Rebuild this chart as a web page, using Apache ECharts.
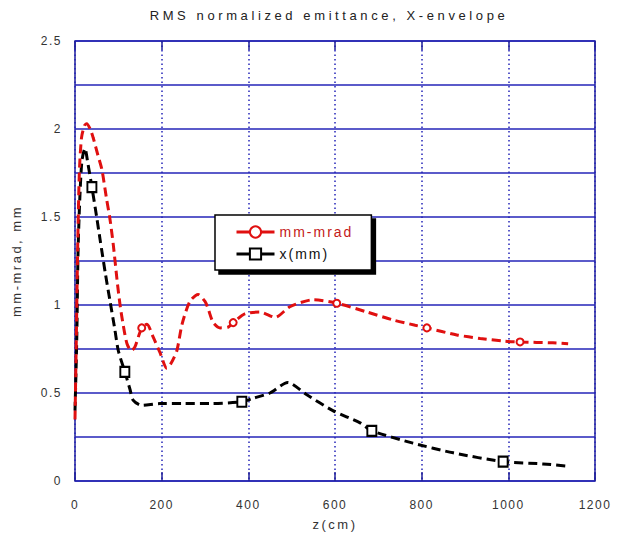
<!DOCTYPE html>
<html>
<head>
<meta charset="utf-8">
<script src="https://cdn.jsdelivr.net/npm/echarts@6/dist/echarts.min.js"></script>
<style>
  html, body { margin: 0; padding: 0; background: #fff; }
  #chart { width: 623px; height: 540px; }
  #chart text { letter-spacing: 1.5px; }
</style>
</head>
<body>
<div id="chart"></div>
<script>
// RMS normalized emittance (red) and x-envelope (black) along z
const redZ = [0, 3, 6, 10, 15, 22, 27, 35, 42, 53, 62, 73, 80, 88, 98, 104, 111, 120, 130, 138, 154, 166, 180, 196, 212, 222, 235, 247, 265, 284, 300, 307, 319, 335, 354, 365, 392, 427, 462, 496, 550, 604, 674, 734, 785, 812, 881, 935, 988, 1027, 1103, 1138];
const redV = [0.35, 0.8, 1.3, 1.75, 1.95, 2.02, 2.03, 2.0, 1.95, 1.85, 1.77, 1.6, 1.5, 1.35, 1.12, 1.0, 0.89, 0.78, 0.74, 0.76, 0.87, 0.89, 0.82, 0.73, 0.64, 0.67, 0.74, 0.89, 1.02, 1.06, 1.02, 0.98, 0.9, 0.87, 0.875, 0.9, 0.95, 0.96, 0.93, 0.99, 1.03, 1.01, 0.96, 0.915, 0.885, 0.87, 0.83, 0.81, 0.795, 0.79, 0.785, 0.78];
const redMarks = [154, 365, 604, 812, 1027];

const blackZ = [0, 4, 7, 11, 16, 23, 30, 39, 50, 58, 70, 81, 92, 100, 115, 127, 134, 154, 196, 250, 312, 385, 411, 450, 491, 535, 595, 658, 685, 780, 873, 988, 1080, 1135];
const blackV = [0.4, 0.8, 1.3, 1.6, 1.82, 1.89, 1.8, 1.67, 1.5, 1.37, 1.18, 1.02, 0.86, 0.74, 0.62, 0.52, 0.46, 0.43, 0.44, 0.44, 0.44, 0.45, 0.47, 0.5, 0.56, 0.49, 0.4, 0.33, 0.285, 0.215, 0.16, 0.11, 0.097, 0.085];
const blackMarks = [39, 115, 385, 685, 988];

const xTicks = [0, 200, 400, 600, 800, 1000, 1200];
const yLabels = [0, 0.5, 1, 1.5, 2, 2.5];

const font = '"Liberation Sans", Arial, sans-serif';
const blue = '#2424b8';

// build line data, markers only on chosen points
function buildData(zs, vs, marks) {
  return zs.map((z, i) => {
    const item = { value: [z, vs[i]] };
    if (!marks.includes(z)) item.symbol = 'none';
    return item;
  });
}

const chart = echarts.init(document.getElementById('chart'), null, { renderer: 'svg' });

const option = {
  animation: false,
  backgroundColor: '#fff',
  title: {
    text: 'RMS normalized emittance, X-envelope',
    left: 324,
    top: 4,
    textAlign: 'center',
    textStyle: { fontFamily: font, fontSize: 13, fontWeight: 'normal', color: '#222' }
  },
  legend: {
    orient: 'vertical',
    left: 215,
    top: 215,
    itemWidth: 38,
    itemHeight: 14,
    itemGap: 8,
    padding: [10, 32, 9, 20],
    backgroundColor: '#fff',
    borderColor: '#000',
    borderWidth: 1.5,
    borderRadius: 0,
    shadowColor: '#000',
    shadowBlur: 0,
    shadowOffsetX: 4,
    shadowOffsetY: 4,
    lineStyle: { type: 'solid', width: 3 },
    textStyle: { fontFamily: font, fontSize: 14 },
    data: [
      { name: 'mm-mrad', textStyle: { color: '#c41a1a' } },
      { name: 'x(mm)', textStyle: { color: '#111' } }
    ]
  },
  grid: {
    left: 75, right: 28, top: 41, bottom: 59,
    show: true,
    borderColor: '#20209a',
    borderWidth: 1.5
  },
  xAxis: [
    {
      type: 'value',
      min: 0, max: 1200, interval: 200,
      name: 'z(cm)',
      nameLocation: 'middle',
      nameGap: 37,
      nameTextStyle: { fontFamily: font, fontSize: 13, color: '#333' },
      axisLine: { show: false },
      axisTick: { show: true, inside: true, length: 9, lineStyle: { color: '#20209a', width: 1.5 } },
      axisLabel: {
        margin: 18, fontFamily: font, fontSize: 12, color: '#333',
        formatter: v => xTicks.includes(v) ? String(v) : ''
      },
      splitLine: { show: true, lineStyle: { color: blue, width: 1.5, type: [1.5, 3] } }
    },
    {
      type: 'value',
      position: 'top',
      min: 0, max: 1200, interval: 200,
      axisLine: { show: false },
      axisTick: { show: true, inside: true, length: 9, lineStyle: { color: '#20209a', width: 1.5 } },
      axisLabel: { show: false },
      splitLine: { show: false }
    }
  ],
  yAxis: {
    type: 'value',
    min: 0, max: 2.5, interval: 0.25,
    name: 'mm-mrad, mm',
    nameLocation: 'middle',
    nameGap: 52,
    nameRotate: 90,
    nameTextStyle: { fontFamily: font, fontSize: 13, color: '#333' },
    axisLine: { show: false },
    axisTick: { show: false },
    axisLabel: {
      margin: 13, fontFamily: font, fontSize: 12, color: '#333',
      formatter: v => yLabels.some(l => Math.abs(l - v) < 1e-6) ? String(v) : ''
    },
    splitLine: { show: true, lineStyle: { color: blue, width: 1.5, type: 'solid' } }
  },
  series: [
    {
      name: 'x(mm)',
      type: 'line',
      smooth: 0.25,
      symbol: 'emptyRect',
      symbolSize: [9, 10],
      itemStyle: { color: '#000', borderColor: '#000', borderWidth: 1.5 },
      lineStyle: { color: '#000', width: 3, type: [9, 5] },
      data: buildData(blackZ, blackV, blackMarks),
      z: 3
    },
    {
      name: 'mm-mrad',
      type: 'line',
      smooth: 0.25,
      symbol: 'emptyCircle',
      symbolSize: 7,
      itemStyle: { color: '#e01010', borderColor: '#e01010', borderWidth: 1.5 },
      lineStyle: { color: '#e01010', width: 3, type: [9, 5] },
      data: buildData(redZ, redV, redMarks),
      z: 4
    }
  ]
};

chart.setOption(option);

// wider letter spacing on some texts, like the original
function spaceTexts() {
  document.querySelectorAll('#chart text').forEach(t => {
    const s = t.textContent;
    if (s.indexOf('RMS') === 0) t.style.letterSpacing = '3.6px';
    else if (s === 'mm-mrad, mm' || s === 'z(cm)') t.style.letterSpacing = '2.5px';
    else if (s === 'mm-mrad' || s === 'x(mm)') t.style.letterSpacing = '2px';
  });
}
chart.on('finished', spaceTexts);
spaceTexts();
</script>
</body>
</html>
